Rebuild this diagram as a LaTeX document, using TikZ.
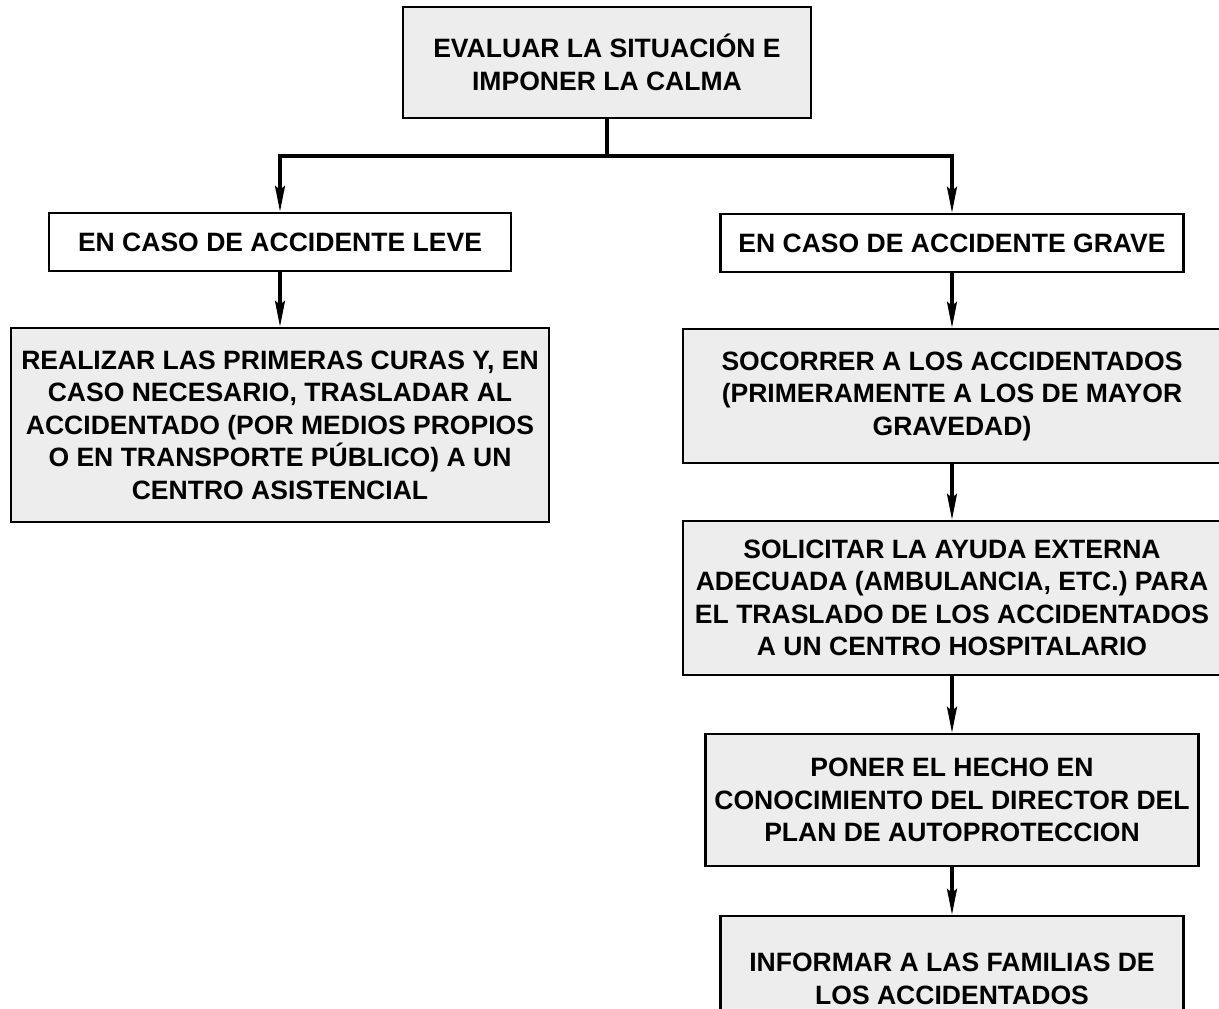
\documentclass[tikz,border=0pt]{standalone}
\usepackage{fontspec}
\setmainfont{Liberation Sans}
\usetikzlibrary{arrows.meta}
\tikzset{>={Stealth[length=5.2mm,width=2mm,inset=0.8mm]}}
\definecolor{boxgrey}{RGB}{237,237,237}

\begin{document}
\begin{tikzpicture}[
    x = 0.2mm, y = -0.2mm,
    box/.style = {draw, line width=1.4pt, align=center, inner sep=0pt,
        font=\bfseries\fontsize{15.1}{18.5}\selectfont},
    greybox/.style = {box, fill=boxgrey},
    link/.style = {line width=1.9pt}
  ]
  \useasboundingbox (0,0) rectangle (1219,1008);
  \clip (0,0) rectangle (1219,1008);

  \node[greybox, minimum width=81.6mm, minimum height=22.2mm] (EVAL) at (607,62.5)
    {EVALUAR LA SITUACIÓN E\\IMPONER LA CALMA};

  \node[box, minimum width=92.4mm, minimum height=11.6mm] (LEVE) at (280,242)
    {EN CASO DE ACCIDENTE LEVE};
  \node[box, minimum width=92.6mm, minimum height=11.6mm] (GRAVE) at (952,243)
    {EN CASO DE ACCIDENTE GRAVE};

  \node[greybox, minimum width=107.6mm, minimum height=38.8mm] (CURAS) at (280,425)
    {REALIZAR LAS PRIMERAS CURAS Y, EN\\CASO NECESARIO, TRASLADAR AL\\ACCIDENTADO (POR MEDIOS PROPIOS\\O EN TRANSPORTE PÚBLICO) A UN\\CENTRO ASISTENCIAL};

  \node[greybox, minimum width=107.6mm, minimum height=26.8mm] (SOCORRER) at (952,396)
    {SOCORRER A LOS ACCIDENTADOS\\(PRIMERAMENTE A LOS DE MAYOR\\GRAVEDAD)};
  \node[greybox, minimum width=107.6mm, minimum height=30.8mm] (AYUDA) at (952,598)
    {SOLICITAR LA AYUDA EXTERNA\\ADECUADA (AMBULANCIA, ETC.) PARA\\EL TRASLADO DE LOS ACCIDENTADOS\\A UN CENTRO HOSPITALARIO};
  \node[greybox, minimum width=98.6mm, minimum height=26.4mm] (DIRECTOR) at (952,800)
    {PONER EL HECHO EN\\CONOCIMIENTO DEL DIRECTOR DEL\\PLAN DE AUTOPROTECCION};
  \node[greybox, minimum width=92.6mm, minimum height=25.2mm] (FAMILIAS) at (952,979)
    {INFORMAR A LAS FAMILIAS DE\\LOS ACCIDENTADOS};

  \coordinate (SPLIT) at (607,156);
  \draw[link] (EVAL.south) -- (SPLIT);
  \draw[link, ->] (SPLIT) -| (LEVE.north);
  \draw[link, ->] (SPLIT) -| (GRAVE.north);
  \draw[link, ->] (LEVE.south) -- (LEVE.south |- CURAS.north);
  \draw[link, ->] (GRAVE.south) -- (GRAVE.south |- SOCORRER.north);
  \draw[link, ->] (SOCORRER.south) -- (SOCORRER.south |- AYUDA.north);
  \draw[link, ->] (AYUDA.south) -- (AYUDA.south |- DIRECTOR.north);
  \draw[link, ->] (DIRECTOR.south) -- (DIRECTOR.south |- FAMILIAS.north);
\end{tikzpicture}
\end{document}
